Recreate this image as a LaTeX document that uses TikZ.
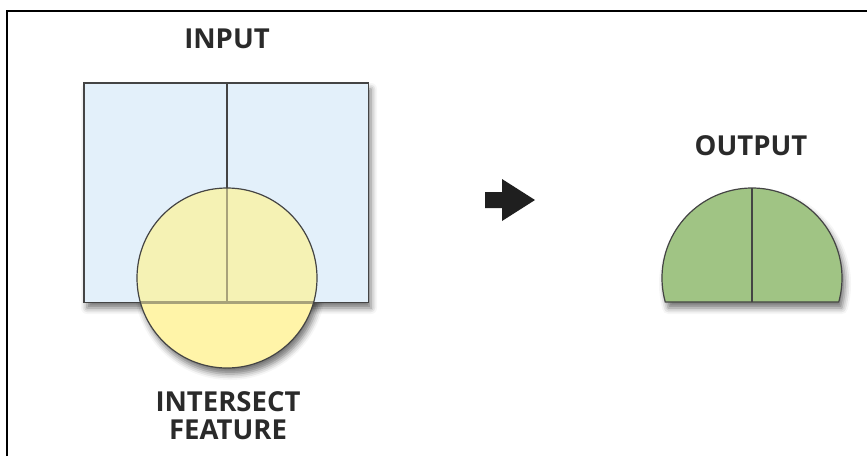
\documentclass[tikz,border=0pt]{standalone}
\usepackage{fontspec}
\setmainfont{Open Sans}
\usetikzlibrary{shadows.blur}
\definecolor{inblue}{HTML}{E3F0FA}
\definecolor{overlap}{HTML}{F5F2B4}
\definecolor{yel}{HTML}{FFF4A8}
\definecolor{olive}{HTML}{A8A27A}
\definecolor{outgreen}{HTML}{A0C484}
\definecolor{edge}{HTML}{444444}
\definecolor{txt}{HTML}{2A2A2A}
\tikzset{
  lbl/.style={font=\bfseries\fontsize{27.5}{28}\selectfont, text=txt, align=center, inner sep=0pt},
  shad/.style={blur shadow={shadow xshift=3pt, shadow yshift=-6pt, shadow blur radius=6pt, shadow opacity=55}},
  frameline/.style={line width=2.5pt, black},
}
\begin{document}
\begin{tikzpicture}[x=1pt,y=1pt]
\useasboundingbox (0,0) rectangle (867,-456);
% frame (partial)
\coordinate (fbl) at (7,-456);
\coordinate (ftl) at (7,-11);
\coordinate (ftr) at (867,-11);
\draw[frameline] (fbl) -- (ftl) -- (ftr);
% shadows
\path[shad, fill=white] (84,-83) rectangle (368,-302);
\path[shad, fill=white] (227,-278) circle[radius=90];
% input rectangle
\node[draw=none, fill=inblue, minimum width=284, minimum height=219, inner sep=0pt, anchor=north west] (rect) at (84,-83) {};
\draw[edge, line width=1.4pt] (rect.north west) rectangle (rect.south east);
\coordinate (mtop) at (227,-83);
\coordinate (mbot) at (227,-302);
\draw[edge, line width=1.2pt] (mtop) -- (mbot);
% intersect circle
\node[circle, minimum size=180, inner sep=0pt, fill=yel] (circ) at (227,-278) {};
\begin{scope}
  \clip (227,-278) circle[radius=90];
  \fill[overlap] (rect.north west) rectangle (rect.south east);
  \draw[olive, line width=2.4pt] (mtop) -- (mbot);
  \draw[olive, line width=2.4pt] (rect.south west) -- (rect.south east);
\end{scope}
\draw[edge, line width=1.2pt] (227,-278) circle[radius=90];
% labels
\node[lbl] (input) at (227,-39) {INPUT};
\node[lbl, anchor=north] (isect) at (228,-391) {INTERSECT\\FEATURE};
% arrow
\fill[black!88] (485,-192) -- (502,-192) -- (502,-179) -- (535,-200) -- (502,-221) -- (502,-208) -- (485,-208) -- cycle;
% output
\path[shad, fill=outgreen] (752,-278) ++(195.47:90) arc[start angle=195.47, end angle=-15.47, radius=90] -- cycle;
\draw[edge, line width=1.2pt, fill=outgreen] (752,-278) ++(195.47:90) coordinate (oleft) arc[start angle=195.47, end angle=-15.47, radius=90] coordinate (oright) -- cycle;
\coordinate (otop) at (752,-188);
\coordinate (obot) at (752,-302);
\draw[edge, line width=1.2pt] (otop) -- (obot);
\node[lbl] (output) at (751,-146) {OUTPUT};
\end{tikzpicture}
\end{document}
